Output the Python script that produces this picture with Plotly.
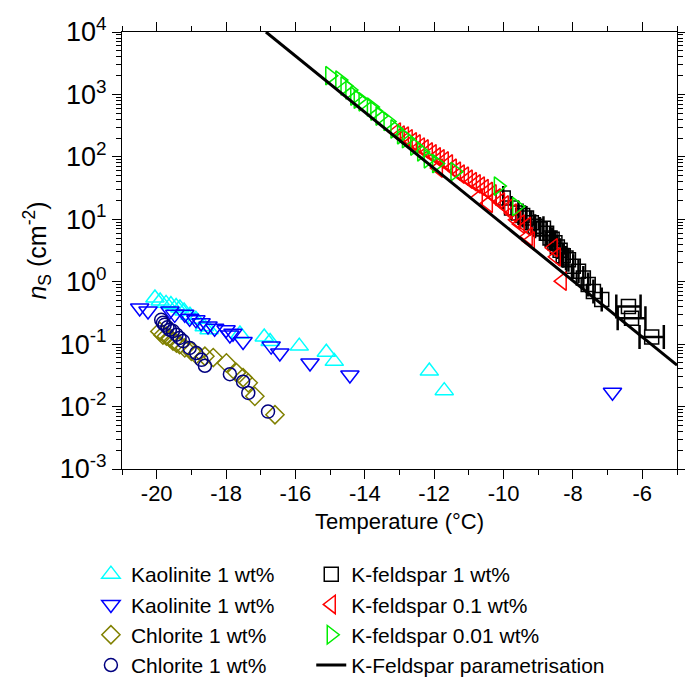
import plotly.graph_objects as go

# ---- data ----
kao_up_T = [-20.05, -19.90, -19.73, -19.59, -19.44, -19.33, -19.21, -19.04, -18.87, -18.63,
            -18.49, -17.60, -16.90, -16.73, -15.89, -15.11, -14.88, -12.14, -11.71]
kao_up_ns = [0.55, 0.49, 0.45, 0.43, 0.40, 0.38, 0.34, 0.29, 0.25, 0.19,
             0.17, 0.145, 0.13, 0.11, 0.093, 0.074, 0.053, 0.037, 0.018]

kao_dn_T = [-20.49, -20.25, -19.62, -19.48, -19.19, -19.05, -18.87, -18.72, -18.52, -18.33,
            -18.00, -17.89, -17.80, -17.51, -16.70, -16.45, -15.58, -14.43, -6.86]
kao_dn_ns = [0.38, 0.34, 0.34, 0.30, 0.30, 0.26, 0.245, 0.22, 0.195, 0.18,
             0.17, 0.14, 0.15, 0.11, 0.093, 0.072, 0.050, 0.032, 0.017]

chl_dia_T = [-19.91, -19.82, -19.72, -19.62, -19.53, -19.43, -19.34, -19.19, -19.00, -18.86,
             -18.61, -18.37, -17.99, -17.70, -17.51, -17.36, -17.17, -16.59]
chl_dia_ns = [0.16, 0.14, 0.134, 0.126, 0.112, 0.104, 0.098, 0.087, 0.077, 0.068,
              0.064, 0.061, 0.050, 0.035, 0.029, 0.024, 0.0146, 0.0074]

chl_cir_T = [-19.87, -19.82, -19.77, -19.69, -19.62, -19.53, -19.43, -19.34, -19.24, -19.05,
             -18.86, -18.71, -18.61, -17.89, -17.51, -17.36, -16.79]
chl_cir_ns = [0.245, 0.22, 0.205, 0.186, 0.17, 0.162, 0.142, 0.126, 0.112, 0.087,
              0.072, 0.056, 0.045, 0.033, 0.025, 0.0165, 0.0083]

kf1_T = [-10.01, -9.77, -9.57, -9.45, -9.34, -9.2, -9.09, -8.95, -8.85, -8.76, -8.66, -8.6,
         -8.52, -8.45, -8.37, -8.28, -8.2, -8.13, -7.99, -7.84, -7.70, -7.56, -7.41, -7.17,
         -6.40, -6.31, -5.73]
kf1_ns = [21.9, 15.1, 12.6, 11.5, 10.5, 8.8, 7.7, 7.0, 7.2, 6.0, 5.0, 4.8,
          4.2, 3.6, 3.2, 2.6, 2.4, 2.25, 1.77, 1.47, 1.15, 0.90, 0.70, 0.52,
          0.40, 0.26, 0.13]
kf1_Terr = [0, 0, 0, 0, 0, 0, 0, 0, 0, 0, 0, 0,
            0, 0, 0, 0, 0, 0, 0, 0, 0, 0, 0, 0,
            0.35, 0.4, 0.35]

kf01_T = [-13.09, -12.98, -12.86, -12.75, -12.63, -12.52, -12.40, -12.29, -12.17, -12.06,
          -11.94, -11.83, -11.71, -11.59, -11.48, -11.36, -11.25, -11.13, -11.02, -10.90,
          -10.79, -10.67, -10.56, -10.44, -10.33, -10.21, -10.09, -9.98, -9.86, -9.75,
          -9.63, -9.52, -9.34, -9.29, -9.23, -8.57, -8.48, -8.31, -11.88, -10.73, -10.44]
kf01_ns = [250, 224, 215, 195, 174, 161, 144, 134, 120, 112,
           100, 93, 86, 77, 66, 59, 53, 49, 44, 40,
           37, 34, 31, 28, 25.5, 22, 19, 17, 15, 12.6,
           9.8, 8.4, 7.7, 5.3, 4.5, 3.5, 2.5, 1.02, 66, 22, 18]

kf001_T = [-15.01, -14.72, -14.57, -14.43, -14.29, -14.19, -14.05, -13.81, -13.71, -13.56,
           -13.33, -13.13, -12.94, -12.80, -12.56, -12.36, -12.17, -11.93, -11.40, -10.15, -9.62]
kf001_ns = [2000, 1700, 1370, 1180, 940, 840, 760, 630, 540, 450,
            370, 280, 225, 195, 149, 120, 93, 78, 58, 34, 16]

param_T = [-16.85, -14.0, -11.0, -8.0, -5.0]
param_ns = [1.0e4, 520, 23, 1.0, 0.046]

x_ticks = [-20, -18, -16, -14, -12, -10, -8, -6]
x_ticklabels = ["-20", "-18", "-16", "-14", "-12", "-10", "-8", "-6"]
y_ticks = [1e-3, 1e-2, 1e-1, 1e0, 1e1, 1e2, 1e3, 1e4]
y_ticklabels = ["10<sup>-3</sup>", "10<sup>-2</sup>", "10<sup>-1</sup>", "10<sup>0</sup>",
                "10<sup>1</sup>", "10<sup>2</sup>", "10<sup>3</sup>", "10<sup>4</sup>"]

FONT = "Liberation Sans, Arial, sans-serif"

fig = go.Figure()

def mk(T, ns, name, symbol, color, size, legend, lw=1.5, err=None):
    kw = {}
    if err is not None:
        kw["error_x"] = dict(type="data", array=err, color="black", thickness=2.5, width=12, visible=True)
    fig.add_trace(go.Scatter(
        x=T, y=ns, mode="markers", name=name, legend=legend,
        marker=dict(symbol=symbol, size=size, color=color, line=dict(color=color, width=lw)),
        **kw))

mk(kao_up_T, kao_up_ns, "Kaolinite 1 wt%", "triangle-up-open", "#00FFFF", 16, "legend")
mk(kao_dn_T, kao_dn_ns, "Kaolinite 1 wt%", "triangle-down-open", "#0000FF", 16, "legend")
mk(chl_dia_T, chl_dia_ns, "Chlorite 1 wt%", "diamond-open", "#808000", 14, "legend")
mk(chl_cir_T, chl_cir_ns, "Chlorite 1 wt%", "circle-open", "#000080", 13, "legend")
mk(kf1_T, kf1_ns, "K-feldspar 1 wt%", "square-open", "#000000", 14, "legend2", err=kf1_Terr)
mk(kf01_T, kf01_ns, "K-feldspar 0.1 wt%", "triangle-left-open", "#FF0000", 16, "legend2")
mk(kf001_T, kf001_ns, "K-feldspar 0.01 wt%", "triangle-right-open", "#00EE00", 16, "legend2")
fig.add_trace(go.Scatter(x=param_T, y=param_ns, mode="lines", name="K-Feldspar parametrisation",
                         legend="legend2", line=dict(color="black", width=3)))

axis_common = dict(showline=True, linecolor="black", linewidth=1, mirror="allticks",
                   ticks="outside", tickcolor="black", showgrid=False, zeroline=False)

fig.update_xaxes(range=[-21, -5], tickmode="array", tickvals=x_ticks, ticktext=x_ticklabels,
                 ticklen=9, tickwidth=1, ticklabelstandoff=-4,
                 tickfont=dict(family=FONT, size=22, color="black"),
                 minor=dict(tickmode="linear", tick0=-21, dtick=1, ticks="outside", ticklen=5,
                            tickcolor="black", showgrid=False),
                 title=dict(text="Temperature (°C)", font=dict(family=FONT, size=22, color="black"),
                            standoff=8),
                 **axis_common)
fig.update_yaxes(type="log", range=[-3, 4], tickmode="array", tickvals=y_ticks, ticktext=y_ticklabels,
                 ticklen=9, tickwidth=1,
                 tickfont=dict(family=FONT, size=27, color="black"),
                 minor=dict(dtick="D1", ticks="outside", ticklen=5, tickcolor="black", showgrid=False),
                 title=dict(text="<i>n</i><sub>S</sub> (cm<sup>-2</sup>)",
                            font=dict(family=FONT, size=25, color="black"), standoff=6),
                 **axis_common)

legend_common = dict(font=dict(family=FONT, size=21, color="black"), bgcolor="rgba(0,0,0,0)",
                     xanchor="left", yanchor="top", tracegroupgap=0, orientation="v")
fig.update_layout(
    width=693, height=677,
    margin=dict(l=114, r=24, t=24, b=216, autoexpand=False),
    plot_bgcolor="white", paper_bgcolor="white",
    showlegend=True,
    legend=dict(x=-0.056, y=-0.1945, **legend_common),
    legend2=dict(x=0.341, y=-0.1945, **legend_common),
)

fig.write_html("out.html")
